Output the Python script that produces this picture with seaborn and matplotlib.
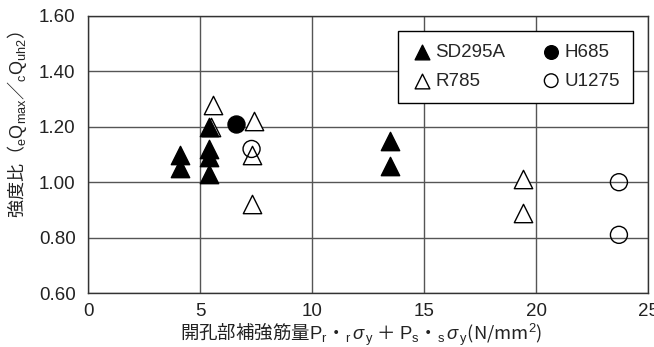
import matplotlib
matplotlib.use("Agg")
import matplotlib.pyplot as plt
import seaborn as sns
import pandas as pd

# ---- data ----
sd_x = [4.1, 4.1, 5.4, 5.4, 5.4, 5.4, 13.5, 13.5]
sd_y = [1.10, 1.05, 1.20, 1.12, 1.09, 1.03, 1.15, 1.06]
h_x = [6.6]
h_y = [1.21]
r_x = [5.6, 5.5, 7.4, 7.3, 7.3, 19.4, 19.4]
r_y = [1.28, 1.20, 1.22, 1.10, 0.92, 1.01, 0.89]
u_x = [7.3, 23.7, 23.7]
u_y = [1.12, 1.00, 0.81]

series_names = ["SD295A", "H685", "R785", "U1275"]
x_ticks = [0, 5, 10, 15, 20, 25]
y_ticks = [0.60, 0.80, 1.00, 1.20, 1.40, 1.60]
y_tick_labels = ["0.60", "0.80", "1.00", "1.20", "1.40", "1.60"]

sns.set_style("white")
plt.rcParams["font.family"] = ["Liberation Sans", "Noto Sans CJK JP", "DejaVu Sans"]
plt.rcParams["mathtext.fontset"] = "custom"
plt.rcParams["mathtext.rm"] = "Liberation Sans"
plt.rcParams["mathtext.it"] = "Liberation Sans:italic"
plt.rcParams["mathtext.sf"] = "Liberation Sans"
plt.rcParams["mathtext.bf"] = "Liberation Sans:bold"

fig = plt.figure(figsize=(6.54, 3.47), dpi=100)
ax = fig.add_axes([0.1346, 0.1556, 0.8563, 0.7983])

df = pd.concat([
    pd.DataFrame({"x": sd_x, "y": sd_y, "s": series_names[0]}),
    pd.DataFrame({"x": h_x, "y": h_y, "s": series_names[1]}),
    pd.DataFrame({"x": r_x, "y": r_y, "s": series_names[2]}),
    pd.DataFrame({"x": u_x, "y": u_y, "s": series_names[3]}),
])

styles = {
    "SD295A": dict(marker="^", fc="black", size=175),
    "H685": dict(marker="o", fc="black", size=150),
    "R785": dict(marker="^", fc="white", size=175),
    "U1275": dict(marker="o", fc="none", size=150),
}
for name in ["R785", "U1275", "SD295A", "H685"]:
    st = styles[name]
    sub = df[df["s"] == name]
    sns.scatterplot(data=sub, x="x", y="y", marker=st["marker"], s=st["size"],
                    facecolor=st["fc"], edgecolor="black", linewidth=1.0,
                    ax=ax, label=name, zorder=3)

ax.set_xlim(0, 25)
ax.set_ylim(0.6, 1.6)
ax.set_xticks(x_ticks)
ax.set_yticks(y_ticks)
ax.set_yticklabels(y_tick_labels)
ax.grid(True, color="#555555", linewidth=1.0)
ax.set_axisbelow(True)
for sp in ax.spines.values():
    sp.set_color("#333333")
    sp.set_linewidth(1.0)
ax.tick_params(direction="in", length=8, width=1.2, labelsize=13.5, pad=9,
               colors="#222222")
ax.tick_params(axis="x", pad=7.5)

ax.set_xlabel(r"開孔部補強筋量$\mathrm{P_r}$・$_\mathrm{r}\,\sigma_{\,\mathrm{y}}$ ＋ $\mathrm{P_s}$・$_\mathrm{s}\,\sigma_{\,\mathrm{y}}$(N/mm$^2$)",
              fontfamily="Noto Sans CJK JP", fontsize=13.3, color="#222222")
ax.xaxis.set_label_coords(0.487, -0.1)
ax.set_ylabel(r"強度比（$_\mathrm{e}\mathrm{Q}_\mathrm{max}$／$_\mathrm{c}\mathrm{Q}_\mathrm{uh2}$）",
              fontfamily="Noto Sans CJK JP", fontsize=13, color="#222222")
ax.yaxis.set_label_coords(-0.105, 0.606)

h, l = ax.get_legend_handles_labels()
order = [l.index(n) for n in ["SD295A", "R785", "H685", "U1275"]]
leg = ax.legend([h[i] for i in order], [l[i] for i in order], ncol=2,
                loc="upper right", bbox_to_anchor=(0.973, 0.946), borderaxespad=0,
                frameon=True, fancybox=False, edgecolor="black", fontsize=13.5,
                markerscale=0.8, handletextpad=0.1, columnspacing=1.85,
                handlelength=1.2, borderpad=0.7, labelspacing=0.6)
leg.get_frame().set_linewidth(1.0)
leg.get_frame().set_alpha(1)

fig.savefig("out.png", dpi=100, facecolor="white")
